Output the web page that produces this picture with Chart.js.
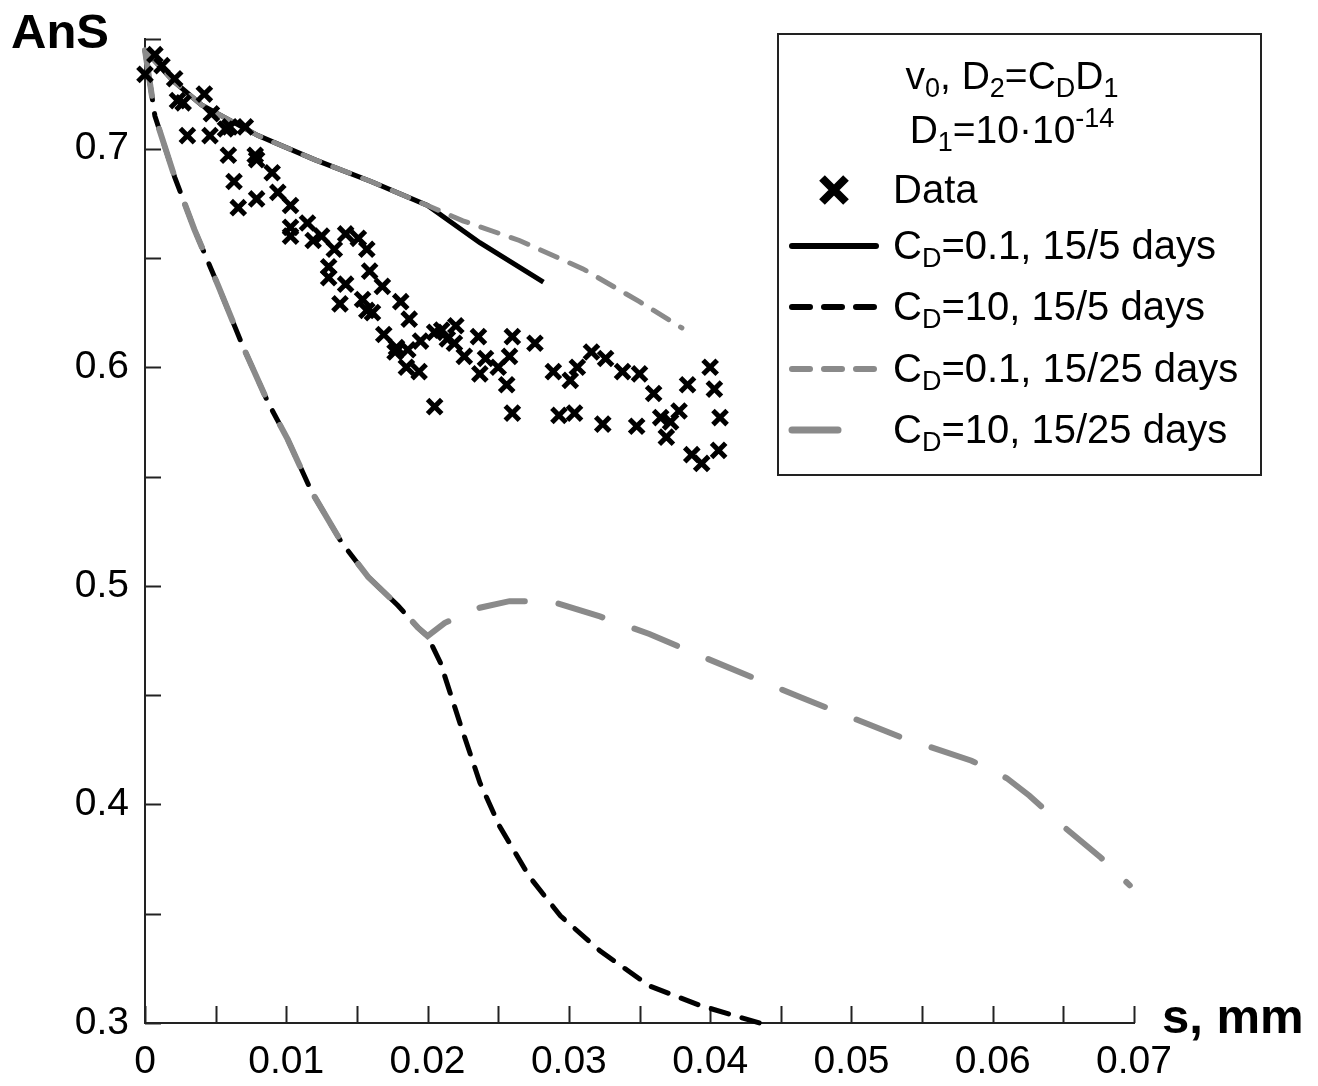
<!DOCTYPE html>
<html>
<head>
<meta charset="utf-8">
<script src="https://cdn.jsdelivr.net/npm/chart.js@4.4.1/dist/chart.umd.min.js"></script>
<style>
body { margin: 0; background: #fff; }
#wrap { width: 1318px; height: 1086px; }
</style>
</head>
<body>
<div id="wrap"><canvas id="ans_chart"></canvas></div>
<script>
// tick labels (every other tick carries a label)
var xTickLabels = ['0', '0.01', '0.02', '0.03', '0.04', '0.05', '0.06', '0.07'];
var yTickLabels = ['0.3', '0.4', '0.5', '0.6', '0.7'];

// measured points (s, mm / AnS)
var dataX = [0.0000, 0.0007, 0.0012, 0.0021, 0.0023, 0.0027, 0.0042, 0.0047, 0.0030, 0.0046,
             0.0057, 0.0060, 0.0071, 0.0059, 0.0078, 0.0079, 0.0090, 0.0063, 0.0079, 0.0066,
             0.0094, 0.0103, 0.0103, 0.0115, 0.0103, 0.0119, 0.0125, 0.0134, 0.0142, 0.0151,
             0.0157, 0.0130, 0.0130, 0.0142, 0.0159, 0.0168, 0.0138, 0.0154, 0.0157, 0.0181,
             0.0161, 0.0187, 0.0169, 0.0178, 0.0186, 0.0195, 0.0177, 0.0185, 0.0194, 0.0205,
             0.0210, 0.0214, 0.0220, 0.0219, 0.0226, 0.0236, 0.0237, 0.0241, 0.0250, 0.0258,
             0.0260, 0.0256, 0.0276, 0.0205, 0.0260, 0.0289, 0.0301, 0.0306, 0.0316, 0.0326,
             0.0338, 0.0350, 0.0360, 0.0293, 0.0304, 0.0324, 0.0348, 0.0365, 0.0372, 0.0378,
             0.0369, 0.0384, 0.0400, 0.0403, 0.0407, 0.0387, 0.0394, 0.0406];
var dataY = [0.734, 0.743, 0.738, 0.732, 0.722, 0.721, 0.725, 0.716, 0.706, 0.706,
             0.709, 0.710, 0.710, 0.697, 0.697, 0.695, 0.689, 0.685, 0.677, 0.673,
             0.680, 0.674, 0.664, 0.666, 0.660, 0.658, 0.660, 0.654, 0.661, 0.659,
             0.654, 0.646, 0.641, 0.638, 0.644, 0.637, 0.629, 0.631, 0.626, 0.630,
             0.625, 0.622, 0.615, 0.609, 0.608, 0.612, 0.607, 0.600, 0.598, 0.616,
             0.617, 0.613, 0.619, 0.611, 0.605, 0.614, 0.597, 0.604, 0.600, 0.605,
             0.614, 0.592, 0.611, 0.582, 0.579, 0.598, 0.594, 0.600, 0.607, 0.604,
             0.598, 0.597, 0.588, 0.578, 0.579, 0.574, 0.573, 0.577, 0.575, 0.580,
             0.568, 0.592, 0.600, 0.590, 0.577, 0.560, 0.556, 0.562];

// C_D = 0.1 : common part up to s = 0.02
var lowCdX = [0, 0.002, 0.004, 0.008, 0.012, 0.016, 0.020];
var lowCdY = [0.745, 0.731, 0.720, 0.706, 0.695, 0.685, 0.674];
// 15/5 days tail
var lowCd5X = [0.0237, 0.0282];
var lowCd5Y = [0.657, 0.639];
// 15/25 days tail
var lowCd25X = [0.0225, 0.0265, 0.0310, 0.0350, 0.0380];
var lowCd25Y = [0.667, 0.658, 0.645, 0.630, 0.618];

// C_D = 10 : common part up to s = 0.02
var highCdX = [0, 0.0007, 0.0021, 0.0035, 0.0052, 0.0069, 0.0087, 0.0101, 0.0118, 0.0139, 0.0158, 0.0179, 0.0193, 0.0200];
var highCdY = [0.745, 0.715, 0.687, 0.663, 0.637, 0.610, 0.584, 0.567, 0.543, 0.520, 0.504, 0.491, 0.481, 0.477];
// 15/5 days tail
var highCd5X = [0.0209, 0.0223, 0.0237, 0.0251, 0.0272, 0.0294, 0.0322, 0.0357, 0.0393, 0.0435];
var highCd5Y = [0.465, 0.437, 0.410, 0.390, 0.367, 0.349, 0.333, 0.317, 0.308, 0.300];
// 15/25 days tail
var highCd25X = [0.0212, 0.0237, 0.0258, 0.0287, 0.0322, 0.0357, 0.0393, 0.0464, 0.0534, 0.0585, 0.0610, 0.0626, 0.0648, 0.0676, 0.0697];
var highCd25Y = [0.483, 0.490, 0.493, 0.493, 0.486, 0.478, 0.468, 0.449, 0.431, 0.420, 0.412, 0.404, 0.391, 0.376, 0.363];

function pts(xs, ys) {
    return xs.map(function(v, i) { return { x: v, y: ys[i] }; });
}

var GRAY = '#8a8a8a';
var FONT = '"Liberation Sans", Arial, sans-serif';

// text with sub/superscripts, parts = [[text, 'n'|'sub'|'sup'], ...]
function richText(ctx, parts, x, y, size, center) {
    var subSize = Math.round(size * 0.68);
    var w = 0;
    parts.forEach(function(p) {
        ctx.font = (p[1] === 'n' ? size : subSize) + 'px ' + FONT;
        w += ctx.measureText(p[0]).width;
    });
    var cx = center ? x - w / 2 : x;
    parts.forEach(function(p) {
        ctx.font = (p[1] === 'n' ? size : subSize) + 'px ' + FONT;
        var dy = p[1] === 'sub' ? size * 0.2 : (p[1] === 'sup' ? -size * 0.42 : 0);
        ctx.fillText(p[0], cx, y + dy);
        cx += ctx.measureText(p[0]).width;
    });
}

var decor = {
    id: 'decor',
    beforeDatasetsDraw: function(chart) {
        // inward tick marks
        var ctx = chart.ctx, sx = chart.scales.x, sy = chart.scales.y;
        ctx.save();
        ctx.strokeStyle = '#222';
        ctx.lineWidth = 2;
        sx.ticks.forEach(function(t) {
            var px = Math.round(sx.getPixelForValue(t.value)) + 0.5;
            ctx.beginPath(); ctx.moveTo(px, sx.top); ctx.lineTo(px, sx.top - 17); ctx.stroke();
        });
        sy.ticks.forEach(function(t) {
            var py = Math.round(sy.getPixelForValue(t.value)) + 0.5;
            ctx.beginPath(); ctx.moveTo(sy.right, py); ctx.lineTo(sy.right + 16, py); ctx.stroke();
        });
        ctx.restore();
    },
    afterDraw: function(chart) {
        var ctx = chart.ctx;
        ctx.save();
        ctx.fillStyle = '#000';
        ctx.textBaseline = 'alphabetic';

        // axis names
        ctx.font = 'bold 49px ' + FONT;
        ctx.fillText('AnS', 11, 48);
        ctx.fillText('s, mm', 1162, 1033);

        // legend box
        ctx.strokeStyle = '#222';
        ctx.lineWidth = 2;
        ctx.strokeRect(778, 34, 483, 441);

        richText(ctx, [['v', 'n'], ['0', 'sub'], [', D', 'n'], ['2', 'sub'], ['=C', 'n'], ['D', 'sub'], ['D', 'n'], ['1', 'sub']], 1012, 89, 39, true);
        richText(ctx, [['D', 'n'], ['1', 'sub'], ['=10\u00b710', 'n'], ['-14', 'sup']], 1012, 143, 39, true);

        var entries = chart.data.datasets;
        var rowY = [190, 246, 307, 369, 430];
        entries.forEach(function(ds, i) {
            var y = rowY[i];
            ctx.save();
            if (ds.showLine === false) {
                ctx.strokeStyle = '#000';
                ctx.lineWidth = 8;
                ctx.beginPath();
                ctx.moveTo(822, y - 12); ctx.lineTo(846, y + 12);
                ctx.moveTo(846, y - 12); ctx.lineTo(822, y + 12);
                ctx.stroke();
            } else {
                ctx.strokeStyle = ds.borderColor;
                ctx.lineWidth = ds.borderWidth + 1;
                ctx.lineCap = 'round';
                ctx.setLineDash(ds.borderDash || []);
                ctx.beginPath();
                ctx.moveTo(792, y);
                ctx.lineTo(ds.legendEnd, y);
                ctx.stroke();
            }
            ctx.restore();
            richText(ctx, ds.legendParts, 893, y + 13, 40, false);
        });
        ctx.restore();
    }
};

var ctx = document.getElementById('ans_chart');
var myChart = new Chart(ctx, {
    type: 'scatter',
    data: {
        datasets: [
            {
                label: 'Data',
                data: pts(dataX, dataY),
                showLine: false,
                pointStyle: 'crossRot',
                pointRadius: 10,
                pointBorderWidth: 5,
                borderColor: '#000',
                backgroundColor: '#000',
                order: 0,
                clip: false,
                legendParts: [['Data', 'n']]
            },
            {
                label: 'C_D=0.1, 15/5 days',
                data: pts(lowCdX.concat(lowCd5X), lowCdY.concat(lowCd5Y)),
                showLine: true,
                borderColor: '#000',
                borderWidth: 5,
                pointRadius: 0,
                order: 4,
                clip: false,
                legendEnd: 876,
                legendParts: [['C', 'n'], ['D', 'sub'], ['=0.1, 15/5 days', 'n']]
            },
            {
                label: 'C_D=10, 15/5 days',
                data: pts(highCdX.concat(highCd5X), highCdY.concat(highCd5Y)),
                showLine: true,
                borderColor: '#000',
                borderWidth: 5,
                borderDash: [18, 14],
                borderCapStyle: 'round',
                pointRadius: 0,
                order: 3,
                clip: false,
                legendEnd: 876,
                legendParts: [['C', 'n'], ['D', 'sub'], ['=10, 15/5 days', 'n']]
            },
            {
                label: 'C_D=0.1, 15/25 days',
                data: pts(lowCdX.concat(lowCd25X), lowCdY.concat(lowCd25Y)),
                showLine: true,
                borderColor: GRAY,
                borderWidth: 5,
                borderDash: [18, 14],
                borderCapStyle: 'round',
                pointRadius: 0,
                order: 1,
                clip: false,
                legendEnd: 876,
                legendParts: [['C', 'n'], ['D', 'sub'], ['=0.1, 15/25 days', 'n']]
            },
            {
                label: 'C_D=10, 15/25 days',
                data: pts(highCdX.concat(highCd25X), highCdY.concat(highCd25Y)),
                showLine: true,
                borderColor: GRAY,
                borderWidth: 6,
                borderDash: [46, 34],
                borderCapStyle: 'round',
                pointRadius: 0,
                order: 2,
                clip: false,
                legendEnd: 846,
                legendParts: [['C', 'n'], ['D', 'sub'], ['=10, 15/25 days', 'n']]
            }
        ]
    },
    options: {
        responsive: true,
        maintainAspectRatio: false,
        animation: false,
        layout: { padding: { left: 0, top: 31, right: 184, bottom: 0 } },
        plugins: {
            legend: { display: false },
            tooltip: { enabled: false }
        },
        scales: {
            x: {
                type: 'linear',
                min: 0,
                max: 0.07,
                afterFit: function(scale) { scale.height = 63; },
                grid: { display: true, drawOnChartArea: false, drawTicks: false },
                border: { display: true, color: '#222', width: 2 },
                ticks: {
                    stepSize: 0.005,
                    autoSkip: false,
                    maxRotation: 0,
                    padding: 16,
                    color: '#000',
                    font: { family: FONT, size: 39 },
                    callback: function(value, index) {
                        return index % 2 === 0 ? xTickLabels[index / 2] : '';
                    }
                }
            },
            y: {
                type: 'linear',
                min: 0.3,
                max: 0.75,
                afterFit: function(scale) { scale.width = 145; },
                grid: { display: true, drawOnChartArea: false, drawTicks: false },
                border: { display: true, color: '#222', width: 2 },
                ticks: {
                    stepSize: 0.05,
                    autoSkip: false,
                    padding: 16,
                    color: '#000',
                    font: { family: FONT, size: 39 },
                    callback: function(value, index) {
                        return index % 2 === 0 ? yTickLabels[index / 2] : '';
                    }
                }
            }
        }
    },
    plugins: [decor]
});
</script>
</body>
</html>
